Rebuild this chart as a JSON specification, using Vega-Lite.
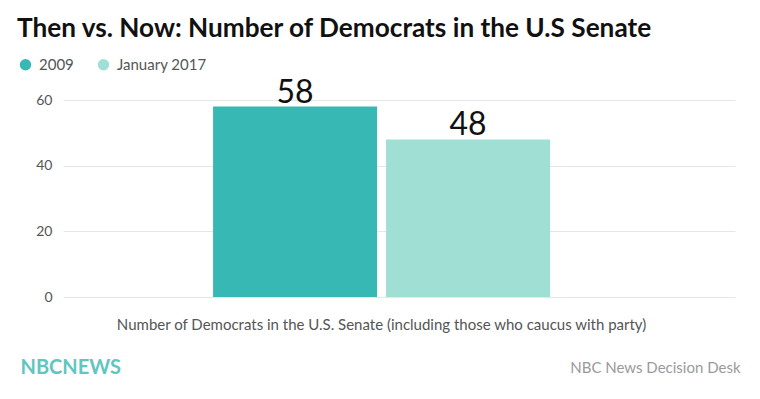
{
  "$schema": "https://vega.github.io/schema/vega-lite/v6.json",
  "width": 672,
  "height": 197,
  "autosize": "none",
  "padding": {"left": 63, "top": 100, "right": 25, "bottom": 102},
  "background": "white",
  "config": {
    "font": "Lato",
    "view": {"stroke": null}
  },
  "title": {
    "text": "Then vs. Now: Number of Democrats in the U.S Senate",
    "anchor": "start",
    "frame": "group",
    "dx": -46,
    "offset": -6,
    "baseline": "alphabetic",
    "fontSize": 26.2,
    "fontWeight": "bold",
    "color": "#111111",
    "font": "Lato"
  },
  "data": {
    "values": [
      {"category": "Number of Democrats in the U.S. Senate (including those who caucus with party)", "series": "2009", "value": 58},
      {"category": "Number of Democrats in the U.S. Senate (including those who caucus with party)", "series": "January 2017", "value": 48}
    ]
  },
  "encoding": {
    "x": {
      "field": "category",
      "type": "nominal",
      "scale": {"paddingInner": 0, "paddingOuter": 0.497, "align": 0.448},
      "axis": {
        "title": "NBC News Decision Desk",
        "titleX": 677,
        "titleY": 75,
        "titleAnchor": null,
        "titleAlign": "right",
        "titleBaseline": "alphabetic",
        "titleFontSize": 15,
        "titleFontWeight": "normal",
        "titleColor": "#9a9a9a",
        "labelAngle": 0,
        "labelFontSize": 15,
        "labelColor": "#555555",
        "labelPadding": 20,
        "labelLimit": 1000,
        "ticks": false,
        "domain": false
      }
    },
    "xOffset": {
      "field": "series",
      "type": "nominal",
      "scale": {"paddingInner": 0.052, "paddingOuter": 0}
    },
    "y": {
      "field": "value",
      "type": "quantitative",
      "scale": {"domain": [0, 60]},
      "axis": {
        "values": [0, 20, 40, 60],
        "title": "NBCNEWS",
        "titleX": -43,
        "titleY": 273,
        "titleAngle": 0,
        "titleAlign": "left",
        "titleBaseline": "alphabetic",
        "titleFontSize": 20,
        "titleFontWeight": "bold",
        "titleColor": "#5fc6c0",
        "labelFontSize": 14,
        "labelColor": "#555555",
        "labelPadding": 11,
        "ticks": false,
        "domain": false,
        "gridColor": "#e6e6e6"
      }
    }
  },
  "layer": [
    {
      "mark": {"type": "bar"},
      "encoding": {
        "color": {
          "field": "series",
          "type": "nominal",
          "scale": {"domain": ["2009", "January 2017"], "range": ["#37b8b5", "#a0dfd3"]},
          "legend": {
            "title": null,
            "orient": "none",
            "direction": "horizontal",
            "legendX": -45,
            "legendY": -43,
            "symbolType": "circle",
            "symbolSize": 130,
            "symbolOpacity": 1,
            "labelFontSize": 15,
            "labelColor": "#555555",
            "columnPadding": 22,
            "labelOffset": 6
          }
        }
      }
    },
    {
      "mark": {"type": "text", "baseline": "bottom", "dy": 3, "fontSize": 32, "color": "#111111"},
      "encoding": {"text": {"field": "value", "type": "quantitative"}}
    }
  ]
}
